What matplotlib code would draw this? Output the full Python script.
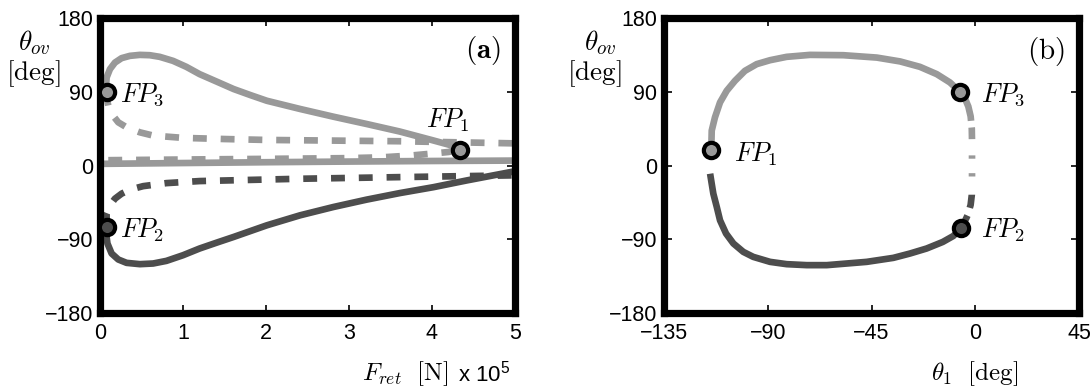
import matplotlib
matplotlib.use("Agg")
import matplotlib.pyplot as plt

plt.rcParams['mathtext.fontset'] = 'cm'
plt.rcParams['font.family'] = ['Liberation Sans', 'DejaVu Sans']
plt.rcParams['lines.scale_dashes'] = False
plt.rcParams['axes.unicode_minus'] = True

LIGHT = '#999999'
DARK = '#4d4d4d'

# ---------------- Panel (a) data: F_ret [x1e5 N] vs theta_ov [deg]
a_up_solid_F = [0.08, 0.072, 0.08, 0.12, 0.18, 0.26, 0.36, 0.48, 0.6, 0.72, 0.88, 1.04, 1.2, 1.41,
                1.61, 1.81, 2.01, 2.41, 2.81, 3.21, 3.61, 4.0, 4.2, 4.34]
a_up_solid_T = [91, 95, 107.4, 117.6, 125.6, 131, 133.8, 135, 134.6, 132.6, 127.7, 120.4, 111.5, 102.2,
                93.3, 86, 79, 69, 59.6, 50.7, 41.5, 31, 25.5, 19.5]

a_up_dash_F = [0.08, 0.08, 0.1, 0.14, 0.22, 0.32, 0.48, 0.64, 1.0, 1.5, 2.0, 3.0, 3.61, 4.3, 5.0]
a_up_dash_T = [90, 83, 73, 63, 52.7, 46.6, 40.5, 36.5, 33.7, 32.3, 31.2, 30.2, 29.6, 28.3, 27]

a_zero_solid_F = [0, 1, 2, 3, 4, 5]
a_zero_solid_T = [2, 3, 4, 4.8, 5.5, 6]

a_zero_dash_F = [0.1, 1, 2, 3, 3.4, 3.75, 4.05, 4.2, 4.34]
a_zero_dash_T = [6.5, 7.3, 8.1, 9, 10, 12.2, 15, 16.5, 19.5]

a_low_solid_F = [0.08, 0.074, 0.09, 0.14, 0.22, 0.32, 0.48, 0.64, 0.8, 1.0, 1.2, 1.41, 1.61, 2.01,
                 2.41, 2.81, 3.21, 3.61, 4.02, 4.42, 5.0]
a_low_solid_T = [-75, -83, -95.2, -107.4, -114.7, -118.8, -120.4, -119.6, -116.4, -109.5, -101.3, -94,
                 -87.2, -73, -60.8, -50.7, -41.7, -33.7, -26.4, -18.2, -7]

a_low_dash_F = [0.08, 0.08, 0.12, 0.18, 0.26, 0.36, 0.52, 0.8, 1.2, 2.4, 3.6, 5.0]
a_low_dash_T = [-75, -58.7, -48.6, -40.5, -34.4, -29.5, -25.2, -21.5, -19, -16.2, -14.2, -12]

a_fp_F = [4.34, 0.08, 0.08]
a_fp_T = [19.5, -75, 90]
a_fp_face = [LIGHT, DARK, LIGHT]

# ---------------- Panel (b) data: theta_1 vs theta_ov [deg]
b_up_solid_X = [-114.5, -114.3, -112.9, -110.7, -107.8, -104.2, -99.9, -94.8, -89, -81.8, -71.7,
                -57.2, -42.7, -32.6, -24, -16.7, -11, -6.6]
b_up_solid_T = [19.5, 42.6, 58.7, 77, 91.2, 103.4, 115.5, 123.7, 128.5, 132.6, 135,
                134.6, 131.7, 127, 120.4, 111.5, 101.4, 90]

b_low_solid_X = [-115, -114.3, -113.6, -112.1, -110.7, -108.1, -104.9, -100.6, -96.3, -89, -81.8,
                 -73.1, -64.4, -47.1, -35.5, -28.3, -21.1, -14.1, -9.5, -6.1]
b_low_solid_T = [-10, -22.3, -34.4, -50.7, -66.9, -83, -95.2, -105.4, -111.5, -117.6, -120.4,
                 -121.6, -121.6, -117.6, -112.7, -107.4, -101.3, -93.3, -86, -76]

b_vert_light_X = [-6.6, -4.5, -3.0, -2.0, -1.5, -1.4, -1.4, -1.4]
b_vert_light_T = [90, 82, 72, 60, 45, 30, 10, -17]

b_vert_dark_X = [-6.1, -4.5, -3.2, -2.0, -1.5, -1.5]
b_vert_dark_T = [-76, -68, -60, -48, -36, -31]

b_fp_X = [-114.5, -6.1, -6.6]
b_fp_T = [19.5, -76, 90]
b_fp_face = [LIGHT, DARK, LIGHT]

a_xticks = [0, 1, 2, 3, 4, 5]
b_xticks = [-135, -90, -45, 0, 45]
yticks = [-180, -90, 0, 90, 180]

LW = 4.8
DASH = (0, (10, 10))

fig = plt.figure(figsize=(10.91, 3.90), dpi=100)
W, H = 1091.0, 390.0
axa = fig.add_axes([100 / W, (H - 313) / H, 415 / W, 295 / H])
axb = fig.add_axes([664 / W, (H - 313) / H, 415 / W, 295 / H])

def style(ax):
    for s in ax.spines.values():
        s.set_linewidth(5.2)
        s.set_color('black')
    ax.tick_params(direction='in', length=6, width=1.2, top=True, right=True,
                   labelsize=15.5, colors='black')
    ax.tick_params(axis='x', pad=7.5)
    ax.tick_params(axis='y', pad=5)
    ax.set_ylim(-180, 180)
    ax.set_yticks(yticks)

# ---- Panel (a)
axa.plot(a_up_solid_F, a_up_solid_T, color=LIGHT, lw=LW, solid_capstyle='butt')
axa.plot(a_up_dash_F, a_up_dash_T, color=LIGHT, lw=LW, linestyle=DASH, dash_capstyle='butt')
axa.plot(a_zero_solid_F, a_zero_solid_T, color=LIGHT, lw=LW, solid_capstyle='butt')
axa.plot(a_zero_dash_F, a_zero_dash_T, color=LIGHT, lw=LW, linestyle=DASH, dash_capstyle='butt')
axa.plot(a_low_solid_F, a_low_solid_T, color=DARK, lw=LW, solid_capstyle='butt')
axa.plot(a_low_dash_F, a_low_dash_T, color=DARK, lw=LW, linestyle=DASH, dash_capstyle='butt')
for x, y, fc in zip(a_fp_F, a_fp_T, a_fp_face):
    axa.plot([x], [y], 'o', ms=11, mew=3.0, mec='black', mfc=fc, clip_on=False, zorder=5)
style(axa)
axa.set_xlim(0, 5)
axa.set_xticks(a_xticks)

fs = 19
lfs = 19.5
axa.text(0.24, 86, r'$FP_3$', fontsize=fs, va='center', ha='left')
axa.text(0.24, -79, r'$FP_2$', fontsize=fs, va='center', ha='left')
axa.text(3.93, 55, r'$FP_1$', fontsize=fs, va='center', ha='left')
axa.text(0.966, 0.889, r'$\mathbf{(a)}$', transform=axa.transAxes, fontsize=21,
         ha='right', va='center')
axa.text(-0.157, 0.916, r'$\theta_{ov}$', transform=axa.transAxes, fontsize=lfs,
         ha='center', va='center')
axa.text(-0.161, 0.811, r'$[\mathrm{deg}]$', transform=axa.transAxes, fontsize=lfs,
         ha='center', va='center')
axa.text(0.8386, -0.205, r'$F_{ret}\ \ [\mathrm{N}]$',
         transform=axa.transAxes, fontsize=18, ha='right', va='center')
axa.text(0.988, -0.205, r'x $\mathregular{10^5}$',
         transform=axa.transAxes, fontsize=16, ha='right', va='center')

# ---- Panel (b)
axb.plot(b_up_solid_X, b_up_solid_T, color=LIGHT, lw=LW, solid_capstyle='butt')
axb.plot(b_low_solid_X, b_low_solid_T, color=DARK, lw=LW, solid_capstyle='butt')
axb.plot(b_vert_light_X, b_vert_light_T, color=LIGHT, lw=LW,
         linestyle=(0, (22.8, 4.8, 8.4, 11.7, 2.4, 10.4, 2.4, 60)), dash_capstyle='butt')
axb.plot(b_vert_dark_X, b_vert_dark_T, color=DARK, lw=LW,
         linestyle=(0, (9.9, 5.8, 9.6, 60)), dash_capstyle='butt')
for x, y, fc in zip(b_fp_X, b_fp_T, b_fp_face):
    axb.plot([x], [y], 'o', ms=11, mew=3.0, mec='black', mfc=fc, clip_on=False, zorder=5)
style(axb)
axb.set_xlim(-135, 45)
axb.set_xticks(b_xticks)

axb.text(2.5, 86, r'$FP_3$', fontsize=fs, va='center', ha='left')
axb.text(-104.6, 14, r'$FP_1$', fontsize=fs, va='center', ha='left')
axb.text(2.5, -79, r'$FP_2$', fontsize=fs, va='center', ha='left')
axb.text(0.966, 0.885, r'$\mathrm{(b)}$', transform=axb.transAxes, fontsize=21,
         ha='right', va='center')
axb.text(-0.154, 0.916, r'$\theta_{ov}$', transform=axb.transAxes, fontsize=lfs,
         ha='center', va='center')
axb.text(-0.169, 0.811, r'$[\mathrm{deg}]$', transform=axb.transAxes, fontsize=lfs,
         ha='center', va='center')
axb.text(0.748, -0.205, r'$\theta_1\ \ [\mathrm{deg}]$', transform=axb.transAxes,
         fontsize=18, ha='center', va='center')

fig.savefig('out.png', dpi=100, facecolor='white')
